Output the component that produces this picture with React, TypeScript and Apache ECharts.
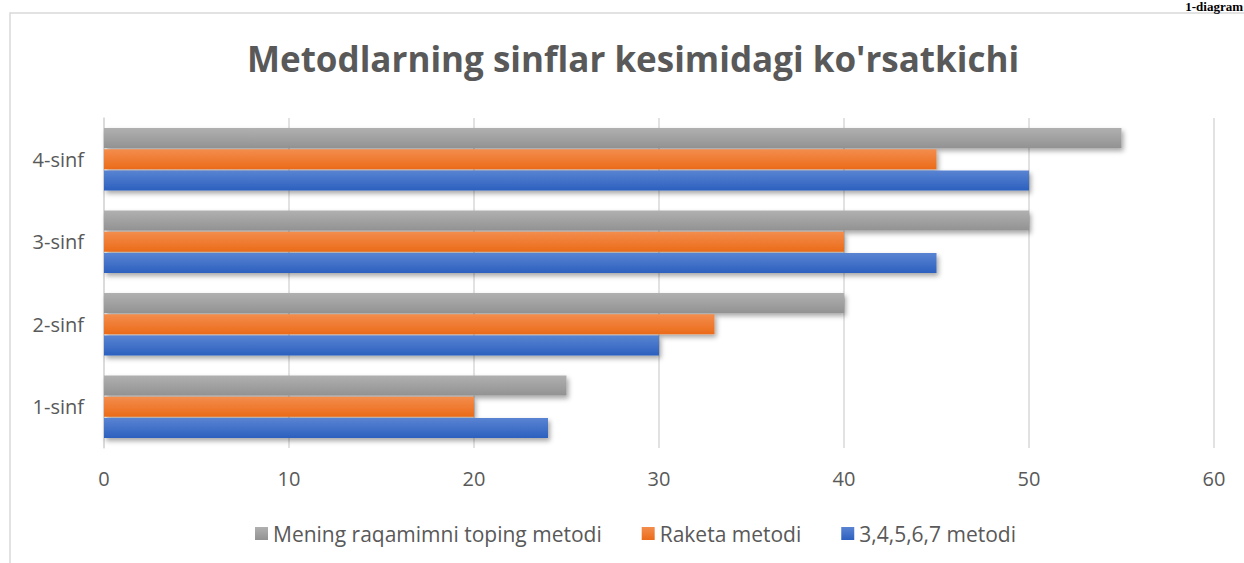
import React, { useEffect, useRef } from "react";
import * as echarts from "echarts";

const categories = ["1-sinf", "2-sinf", "3-sinf", "4-sinf"];
const seriesNames = ["Mening raqamimni toping metodi", "Raketa metodi", "3,4,5,6,7 metodi"];
const grayValues = [25, 40, 50, 55];
const orangeValues = [20, 33, 40, 45];
const blueValues = [24, 30, 45, 50];
const legendOrder = ["Mening raqamimni toping metodi", "Raketa metodi", "3,4,5,6,7 metodi"];
const titleText = "Metodlarning sinflar kesimidagi ko'rsatkichi";

const grad = (a: string, b: string) =>
  new echarts.graphic.LinearGradient(0, 0, 0, 1, [
    { offset: 0, color: a },
    { offset: 1, color: b },
  ]);

export default function App() {
  const ref = useRef<HTMLDivElement>(null);
  useEffect(() => {
    const chart = echarts.init(ref.current!, null, { renderer: "svg" });
    const font = "'Open Sans', 'Noto Sans', sans-serif";
    const mk = (name: string, data: number[], c1: string, c2: string) => ({
      name,
      type: "bar",
      data,
      barWidth: 20,
      barGap: "6%",
      itemStyle: {
        color: grad(c1, c2),
        shadowColor: "rgba(0,0,0,0.35)",
        shadowBlur: 5,
        shadowOffsetX: 2,
        shadowOffsetY: 3,
      },
    });
    chart.setOption({
      animation: false,
      backgroundColor: "#ffffff",
      title: {
        text: titleText,
        left: 242,
        top: 36,
        textStyle: { fontFamily: font, fontSize: 35, fontWeight: "bold", color: "#595959" },
      },
      legend: {
        data: legendOrder,
        bottom: 14,
        left: 250,
        itemWidth: 13,
        itemHeight: 13,
        itemGap: 40,
        icon: "rect",
        textStyle: { fontFamily: font, fontSize: 21, color: "#595959", padding: [0, 0, 0, 0] },
      },
      grid: { left: 104, right: 30, top: 118, bottom: 115, containLabel: false },
      xAxis: {
        type: "value",
        min: 0,
        max: 60,
        interval: 10,
        axisLine: { show: false },
        axisTick: { show: false },
        splitLine: { lineStyle: { color: "#d9d9d9", width: 1.5 } },
        axisLabel: { fontFamily: font, fontSize: 20, color: "#595959", margin: 20 },
      },
      yAxis: {
        type: "category",
        data: categories,
        axisLine: { lineStyle: { color: "#d9d9d9", width: 1.5 } },
        axisTick: { show: false },
        axisLabel: { fontFamily: font, fontSize: 20, color: "#595959", margin: 20 },
      },
      series: [
        mk(seriesNames[0], grayValues, "#b0b0b0", "#929292"),
        mk(seriesNames[1], orangeValues, "#f38d4d", "#eb6b19"),
        mk(seriesNames[2], blueValues, "#5a84d2", "#2c60bf"),
      ],
      graphic: [
        {
          type: "polyline",
          shape: { points: [[10, 563], [10, 13], [1244, 13]] },
          style: { stroke: "#d9d9d9", lineWidth: 1.5, fill: null },
          silent: true,
        },
        {
          type: "text",
          right: 1,
          top: 0,
          style: {
            text: "1-diagram",
            fontFamily: "'Liberation Serif', 'DejaVu Serif', serif",
            fontWeight: "bold",
            fontSize: 13,
            fill: "#000000",
          },
        },
      ],
    });
    return () => chart.dispose();
  }, []);
  return (
    <div
      ref={ref}
      style={{ position: "fixed", left: 0, top: 0, width: 1244, height: 563 }}
    />
  );
}
